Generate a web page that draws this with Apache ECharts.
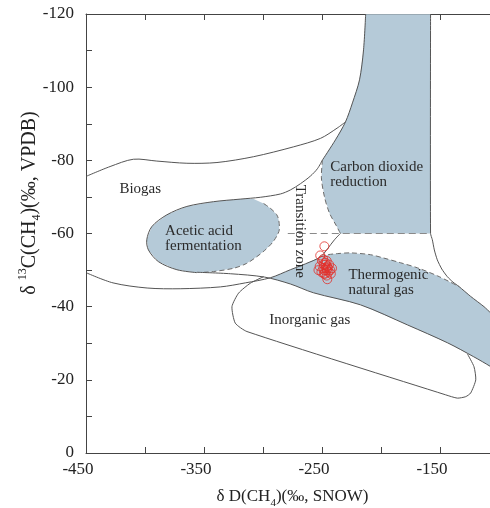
<!DOCTYPE html>
<html>
<head>
<meta charset="utf-8">
<title>δD - δ13C of methane</title>
<script src="https://cdn.jsdelivr.net/npm/echarts@6/dist/echarts.min.js"></script>
<style>
  html, body { margin: 0; padding: 0; background: #fff; }
  #chart { width: 490px; height: 508px; }
</style>
</head>
<body>
<div id="chart"></div>
<script>
// samples: dD(CH4) and d13C(CH4), permil
var sampleD = [-248, -251.5, -250, -247, -244, -252, -249, -246, -243, -250.5,
               -247.5, -244.5, -241.5, -248.5, -245.5, -253, -246, -245.5, -249, -242.5,
               -246.5, -248, -247, -245, -248.5, -246];
var sampleC = [-56.5, -54, -52.5, -52, -51.5, -51, -50.5, -50, -50, -49.5,
               -49, -49.5, -50.5, -51.5, -51, -50, -48.5, -47.5, -53, -49,
               -50.5, -50, -51.5, -50.5, -49, -52.5];

var xTickLabels = [-450, -350, -250, -150];
var yTickLabels = [-120, -100, -80, -60, -40, -20, 0];

// zone outlines, [dD, d13C]
var co2Zone = [[-213, -119.9], [-214.8, -110.2], [-218.2, -102], [-224.2, -95.7], [-230.1, -90.5], [-238.6, -85.6],
  [-249.6, -80.1], [-250.5, -75.2], [-247.9, -70], [-243.7, -65.6], [-237.8, -62.1], [-234.4, -60], [-158, -60], [-158, -119.9]];
var co2EdgeSolid = [[-213, -120], [-214.8, -110.2], [-218.2, -102], [-224.2, -95.7], [-230.1, -90.5], [-238.6, -85.6], [-249.6, -80.1]];
var co2EdgeDash = [[-249.6, -80.1], [-250.5, -75.2], [-247.9, -70], [-243.7, -65.6], [-237.8, -62.1], [-234.4, -60]];
var line60 = [[-279, -60], [-158, -60]];
var rightEdge = [[-158, -120], [-158, -60], [-156.5, -58.3], [-154.8, -55.5], [-152.3, -52.8], [-148.5, -50.3], [-143.8, -48.2],
  [-139, -46.7], [-133.9, -45.5], [-124, -42.8], [-112.7, -40], [-107, -38.3], [-100, -36.6]];

var biogasUpper = [[-450, -75.6], [-429.6, -78.3], [-409.8, -80.3], [-390, -79.8], [-364.5, -79.2], [-339, -79.4],
  [-307.9, -81], [-274, -83.7], [-251.3, -86], [-237.2, -88.8], [-230.1, -90.5]];
var biogasInner = [[-356, -49.3], [-373, -50.1], [-388.6, -52.3], [-397.1, -55.5], [-398.5, -58.3], [-394.2, -61.9],
  [-381.5, -65.1], [-364.5, -67.4], [-341.9, -68.7], [-319.3, -69.4], [-302.3, -69.9], [-285.3, -70.8], [-276.8, -71.9],
  [-268.3, -73.6], [-259.8, -75.7], [-253.9, -77.7], [-249.6, -80.1]];
var biogasLower = [[-450, -49.3], [-427.1, -46.5], [-398.2, -45.1], [-370.2, -44.9], [-336.2, -45.4], [-315, -46.5],
  [-293.8, -47.9], [-276.8, -50.1], [-264.1, -51.7], [-251.3, -53.6], [-245.4, -55.8], [-239.4, -58.3], [-234.4, -60]];

var aceticZone = [[-398.5, -58.3], [-394.2, -61.9], [-381.5, -65.1], [-364.5, -67.4], [-341.9, -68.7], [-319.3, -69.4],
  [-307.9, -69.4], [-299.5, -68.2], [-293.8, -66.9], [-288.5, -65.2], [-286.7, -63.7], [-286.2, -61], [-288.5, -59.2],
  [-292.3, -57.4], [-298.5, -55.4], [-305.1, -53.7], [-314, -51.8], [-324.9, -50.5], [-341.9, -49.6], [-356, -49.3],
  [-373, -50.1], [-388.6, -52.3], [-397.1, -55.5]];
var aceticDash = [[-299.5, -68.2], [-293.8, -66.9], [-288.5, -65.2], [-286.7, -63.7], [-286.2, -61], [-288.5, -59.2],
  [-292.3, -57.4], [-298.5, -55.4], [-305.1, -53.7], [-314, -51.8], [-324.9, -50.5], [-341.9, -49.6], [-350, -49.4]];

var thermoTopDash = [[-251.3, -53.6], [-245, -54.2], [-236.9, -54.5], [-225.9, -54.7], [-208.9, -54.2], [-197.8, -53.3],
  [-183.4, -52], [-169, -50.6], [-152, -48.4], [-133.9, -45.5]];
var thermoBase = [[-356, -49.4], [-327.7, -49], [-298.9, -48.1], [-276.8, -46.2], [-257.3, -43.8], [-217.4, -40.5],
  [-177.5, -35], [-143.5, -30.1], [-121.4, -26.3], [-107, -23.6], [-100, -22]];
var thermoZone = [[-294, -47.8], [-276.8, -50.1], [-264.1, -51.7], [-251.3, -53.6], [-245, -54.2], [-236.9, -54.5],
  [-225.9, -54.7], [-208.9, -54.2], [-197.8, -53.3], [-183.4, -52], [-169, -50.6], [-152, -48.4], [-133.9, -45.5],
  [-124, -42.8], [-112.7, -40], [-107, -38.3], [-100, -36.6], [-100, -22], [-107, -23.6], [-121.4, -26.3],
  [-143.5, -30.1], [-177.5, -35], [-217.4, -40.5], [-257.3, -43.8], [-276.8, -46.2]];

var inorganicEdge = [[-299.5, -48.2], [-310.8, -46.4], [-320.7, -43.7], [-326.3, -40], [-323.5, -35.5], [-313.6, -33.2],
  [-145.2, -15.9], [-135.3, -15], [-128.2, -15.4], [-124, -16.4], [-119.7, -20], [-121.2, -23.6], [-126.8, -27.1]];

// zone names: text, dD, d13C, align, rotated
var zoneLabels = [
  ['Biogas', -404, -72.2, 'center', false],
  ['Carbon dioxide\nreduction', -243, -76, 'left', false],
  ['Acetic acid\nfermentation', -383, -58.7, 'left', false],
  ['Transition zone', -268.3, -60.6, 'center', true],
  ['Thermogenic\nnatural gas', -227.6, -46.5, 'left', false],
  ['Inorganic gas', -294.6, -36.4, 'left', false]
];

var FILL = '#b5cad8';
var LINE = '#555';
var DASH = '#6a6a6a';

var fills = [co2Zone, thermoZone, aceticZone];
var outlines = [
  { pts: biogasUpper, dash: null, smooth: 0.3 },
  { pts: biogasInner, dash: null, smooth: 0.3 },
  { pts: biogasLower, dash: null, smooth: 0.3 },
  { pts: co2EdgeSolid, dash: null, smooth: 0.3 },
  { pts: co2EdgeDash, dash: [5, 3], smooth: 0.3 },
  { pts: line60, dash: [7, 4], smooth: 0, color: '#8a8a8a' },
  { pts: rightEdge, dash: null, smooth: 0.2 },
  { pts: aceticDash, dash: [5, 3], smooth: 0.3 },
  { pts: thermoTopDash, dash: [5, 3], smooth: 0.3 },
  { pts: thermoBase, dash: null, smooth: 0.3 },
  { pts: inorganicEdge, dash: null, smooth: 0.2 }
];

function idxData(list) {
  return list.map(function (s, i) { return [-300, -60, i]; });
}

var serif = '"Liberation Serif", "Times New Roman", serif';

var chart = echarts.init(document.getElementById('chart'));

chart.setOption({
  backgroundColor: '#fff',
  animation: false,
  grid: { left: 86, top: 14, width: 413, height: 439, containLabel: false, outerBoundsMode: 'none' },
  xAxis: [{
    type: 'value', min: -450, max: -100, interval: 50, position: 'bottom',
    axisLine: { show: true, onZero: false, lineStyle: { color: '#444', width: 1 } },
    axisTick: { show: true, inside: true, length: 6, lineStyle: { color: '#444' } },
    splitLine: { show: false },
    axisLabel: {
      margin: 8, color: '#222', fontSize: 17, fontFamily: serif, padding: [0, 16, 0, 0],
      formatter: function (v) { return xTickLabels.indexOf(v) >= 0 ? String(v) : ''; }
    },
    name: 'δ D(CH{sub|4})(‰, SNOW)',
    nameLocation: 'middle', nameGap: 32,
    nameTextStyle: {
      color: '#222', fontSize: 17, fontFamily: serif, lineHeight: 24,
      rich: { sub: { fontSize: 11, fontFamily: serif, lineHeight: 11, verticalAlign: 'bottom', color: '#222' } }
    }
  }, {
    type: 'value', min: -450, max: -100, interval: 50, position: 'top',
    axisLine: { show: true, onZero: false, lineStyle: { color: '#444', width: 1 } },
    axisTick: { show: true, inside: true, length: 6, lineStyle: { color: '#444' } },
    axisLabel: { show: false },
    splitLine: { show: false }
  }],
  yAxis: {
    type: 'value', min: -120, max: 0, interval: 10, inverse: true,
    axisLine: { show: true, onZero: false, lineStyle: { color: '#444', width: 1 } },
    axisTick: { show: true, inside: true, length: 6, lineStyle: { color: '#444' } },
    splitLine: { show: false },
    axisLabel: {
      margin: 12, color: '#222', fontSize: 17, fontFamily: serif,
      formatter: function (v) { return yTickLabels.indexOf(v) >= 0 ? String(v) : ''; }
    },
    name: 'δ {sup|13}C(CH{sub|4})(‰, VPDB)',
    nameLocation: 'middle', nameGap: 43, nameMoveOverlap: false,
    nameTextStyle: {
      color: '#222', fontSize: 20, fontFamily: serif, lineHeight: 26, padding: [0, 0, 0, 61],
      rich: {
        sub: { fontSize: 12, fontFamily: serif, lineHeight: 12, verticalAlign: 'bottom', color: '#222' },
        sup: { fontSize: 12, fontFamily: serif, lineHeight: 12, verticalAlign: 'top', color: '#222' }
      }
    }
  },
  series: [{
    type: 'custom', name: 'zones', silent: true, z: 2,
    data: idxData(fills),
    renderItem: function (params, api) {
      var pts = fills[params.dataIndex].map(function (p) { return api.coord(p); });
      return { type: 'polygon', shape: { points: pts }, style: { fill: FILL, stroke: null } };
    }
  }, {
    type: 'custom', name: 'outlines', silent: true, z: 3,
    data: idxData(outlines),
    renderItem: function (params, api) {
      var o = outlines[params.dataIndex];
      var pts = o.pts.map(function (p) { return api.coord(p); });
      return {
        type: 'polyline',
        shape: { points: pts, smooth: o.smooth },
        style: { fill: null, stroke: o.color || (o.dash ? DASH : LINE), lineWidth: 1, lineDash: o.dash }
      };
    }
  }, {
    type: 'custom', name: 'labels', silent: true, z: 4,
    data: idxData(zoneLabels),
    renderItem: function (params, api) {
      var l = zoneLabels[params.dataIndex];
      var c = api.coord([l[1], l[2]]);
      return {
        type: 'text', x: c[0], y: c[1], rotation: l[4] ? -Math.PI / 2 : 0,
        style: {
          text: l[0], fontSize: 15, fontFamily: serif, fill: '#2b2b2b', lineHeight: 15,
          align: l[3], verticalAlign: 'middle'
        }
      };
    }
  }, {
    type: 'scatter', name: 'samples', z: 5,
    data: sampleD.map(function (d, i) { return [d, sampleC[i]]; }),
    symbol: 'circle', symbolSize: 9,
    itemStyle: { color: 'rgba(0,0,0,0)', borderColor: '#e2302a', borderWidth: 1 }
  }]
});
</script>
</body>
</html>
